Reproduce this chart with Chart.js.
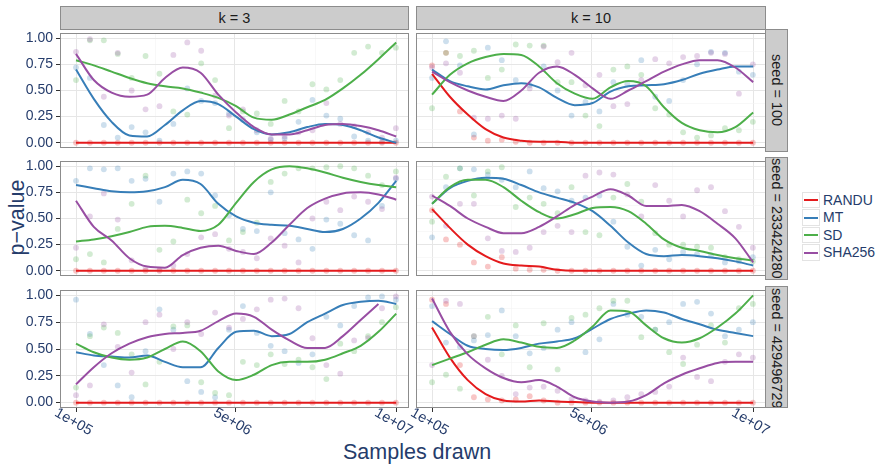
<!DOCTYPE html>
<html>
<head>
<meta charset="utf-8">
<script src="https://cdn.jsdelivr.net/npm/chart.js@4.4.1/dist/chart.umd.min.js"></script>
<style>
  body { margin: 0; width: 878px; height: 467px; background: #fff; position: relative; overflow: hidden;
         font-family: "Liberation Sans", Arial, sans-serif; }
  canvas { position: absolute; }
  .strip { position: absolute; background: #cccccc; border: 1px solid #8c8c8c; box-sizing: border-box;
           color: #1a1a1a; font-size: 14.5px; display: flex; align-items: center; justify-content: center;
           overflow: hidden; white-space: nowrap; }
  .strip.side { writing-mode: vertical-rl; }
  .strip.side.long { justify-content: flex-start; padding-top: 1px; }
  .axis-title { position: absolute; color: #253c6b; font-size: 21.5px; white-space: nowrap; }
  #legend { position: absolute; left: 802px; top: 191px; }
  .key-row { height: 17.5px; display: flex; align-items: center; }
  .key { width: 18px; height: 16.5px; border: 1px solid #e3e3e3; box-sizing: border-box; position: relative; margin-right: 3px; }
  .key i { position: absolute; left: 1px; right: 1px; top: 6.5px; height: 2px; }
  .key-row span { color: #253c6b; font-size: 14px; }
</style>
</head>
<body>

<div class="strip" style="left:60px;top:6px;width:349px;height:24px;">k = 3</div>
<div class="strip" style="left:416px;top:6px;width:350px;height:24px;">k = 10</div>
<div class="strip side" style="left:765px;top:29px;width:23px;height:123px;">seed = 100</div>
<div class="strip side" style="left:765px;top:157px;width:23px;height:123px;">seed = 233424280</div>
<div class="strip side long" style="left:765px;top:286px;width:23px;height:122px;">seed = 4294967296</div>

<div class="axis-title" style="left:343px;top:440px;">Samples drawn</div>
<div class="axis-title" style="left:-20px;top:205px;transform:rotate(-90deg);">p&minus;value</div>
<div id="legend"></div>

<canvas id="p_k3_s100"></canvas>
<canvas id="p_k10_s100"></canvas>
<canvas id="p_k3_s233"></canvas>
<canvas id="p_k10_s233"></canvas>
<canvas id="p_k3_s429"></canvas>
<canvas id="p_k10_s429"></canvas>

<script>
// Generators, in drawing order
const series = ['RANDU', 'MT', 'SD', 'SHA256'];

// x positions (samples drawn) of the smoothed curves and of the raw p-values
const fitX = [1e5, 6.5e5, 1.2e6, 1.75e6, 2.3e6, 2.85e6, 3.4e6, 3.95e6, 4.5e6, 5.05e6,
              5.6e6, 6.15e6, 6.7e6, 7.25e6, 7.8e6, 8.35e6, 8.9e6, 9.45e6, 1e7];
const pointX = [1e5, 5.3e5, 9.6e5, 1.39e6, 1.82e6, 2.25e6, 2.68e6, 3.11e6, 3.54e6, 3.97e6, 4.4e6, 4.83e6,
                5.26e6, 5.69e6, 6.12e6, 6.55e6, 6.98e6, 7.41e6, 7.84e6, 8.27e6, 8.7e6, 9.13e6, 9.56e6, 9.99e6];

// axis breaks
const xBreaks = [1e5, 5e6, 1e7];
const xLabels = ['1e+05', '5e+06', '1e+07'];
const xMinor = [2.55e6, 7.5e6];
const yBreaks = [0, 0.25, 0.5, 0.75, 1];
const yMinor = [0.125, 0.375, 0.625, 0.875];

// smoothed p-value per panel: [RANDU, MT, SD, SHA256]
const fit_k3_s100 = [
  [0,0,0,0,0,0,0,0,0,0,0,0,0,0,0,0,0,0,0],
  [0.70,0.42,0.20,0.07,0.06,0.17,0.31,0.40,0.37,0.25,0.13,0.08,0.10,0.15,0.18,0.17,0.12,0.05,0.00],
  [0.79,0.74,0.68,0.62,0.57,0.54,0.52,0.48,0.43,0.35,0.24,0.22,0.27,0.34,0.41,0.52,0.65,0.80,0.96],
  [0.85,0.60,0.48,0.44,0.46,0.62,0.72,0.67,0.46,0.29,0.15,0.08,0.08,0.12,0.17,0.18,0.16,0.12,0.06]
];
const fit_k10_s100 = [
  [0.66,0.44,0.27,0.13,0.05,0.02,0.01,0.01,0,0,0,0,0,0,0,0,0,0,0],
  [0.70,0.59,0.54,0.51,0.55,0.57,0.53,0.43,0.36,0.38,0.49,0.54,0.55,0.56,0.60,0.66,0.70,0.73,0.73],
  [0.46,0.65,0.76,0.82,0.85,0.84,0.73,0.57,0.47,0.42,0.53,0.59,0.54,0.34,0.19,0.12,0.10,0.15,0.29],
  [0.68,0.58,0.50,0.44,0.40,0.50,0.67,0.73,0.65,0.52,0.42,0.50,0.59,0.68,0.75,0.79,0.79,0.72,0.58]
];
const fit_k3_s233 = [
  [0,0,0,0,0,0,0,0,0,0,0,0,0,0,0,0,0,0,0],
  [0.82,0.79,0.76,0.75,0.76,0.80,0.87,0.83,0.64,0.52,0.46,0.44,0.43,0.40,0.37,0.40,0.50,0.65,0.86],
  [0.28,0.30,0.33,0.37,0.42,0.43,0.41,0.38,0.44,0.65,0.85,0.97,1.00,0.98,0.94,0.89,0.85,0.82,0.80],
  [0.67,0.42,0.29,0.12,0.04,0.03,0.15,0.22,0.24,0.19,0.16,0.27,0.44,0.60,0.69,0.74,0.75,0.73,0.68]
];
const fit_k10_s233 = [
  [0.59,0.41,0.25,0.14,0.07,0.05,0.04,0.01,0,0,0,0,0,0,0,0,0,0,0],
  [0.64,0.79,0.86,0.89,0.88,0.82,0.75,0.70,0.65,0.57,0.43,0.27,0.16,0.14,0.15,0.14,0.12,0.09,0.05],
  [0.64,0.80,0.87,0.87,0.80,0.67,0.56,0.50,0.54,0.60,0.61,0.57,0.45,0.30,0.22,0.19,0.15,0.12,0.10],
  [0.72,0.62,0.50,0.42,0.36,0.36,0.42,0.52,0.63,0.71,0.78,0.72,0.62,0.62,0.63,0.57,0.45,0.31,0.08]
];
const fit_k3_s429 = [
  [0,0,0,0,0,0,0,0,0,0,0,0,0,0,0,0,0,0,0],
  [0.47,0.44,0.43,0.42,0.44,0.38,0.33,0.33,0.51,0.66,0.67,0.62,0.64,0.75,0.83,0.91,0.94,0.95,0.92],
  [0.55,0.47,0.42,0.40,0.42,0.50,0.57,0.48,0.29,0.21,0.26,0.35,0.38,0.38,0.40,0.46,0.53,0.66,0.83],
  [0.17,0.33,0.46,0.55,0.61,0.64,0.65,0.67,0.76,0.83,0.80,0.68,0.58,0.51,0.51,0.62,0.77,0.92,null]
];
const fit_k10_s429 = [
  [0.70,0.42,0.21,0.08,0.02,0.01,0.02,0.01,0.005,0,0,0,0,0,0,0,0,0,0],
  [0.76,0.64,0.53,0.50,0.49,0.51,0.55,0.57,0.60,0.69,0.78,0.83,0.86,0.84,0.78,0.73,0.68,0.65,0.62],
  [0.35,0.41,0.47,0.54,0.59,0.56,0.52,0.51,0.58,0.71,0.86,0.85,0.72,0.60,0.56,0.60,0.70,0.83,1.00],
  [0.97,0.66,0.45,0.32,0.23,0.19,0.21,0.15,0.05,0.01,0.00,0.01,0.07,0.18,0.26,0.32,0.37,0.38,0.38]
];

// raw p-values per panel: [RANDU, MT, SD, SHA256]
const pts_k3_s100 = [
  [0,0,0,0,0,0,0,0,0,0,0,0,0,0,0,0,0,0,0,0,0,0,0,0],
  [0.72,0.62,0.17,0.05,0.15,0.10,0.02,0.18,0.52,0.40,0.38,0.28,0.22,0.10,0.03,0.04,0.20,0.41,0.26,0.23,0.06,0.02,0.01,0.02],
  [0.60,0.98,0.98,0.85,0.62,0.83,0.66,0.30,0.27,0.76,0.60,0.14,0.30,0.28,0.18,0.40,0.30,0.56,0.51,0.60,0.86,0.92,0.86,0.91],
  [0.87,0.99,0.44,0.86,0.50,0.32,0.35,0.84,0.96,0.88,0.45,0.26,0.32,0.12,0.04,0.06,0.10,0.12,0.38,0.18,0.16,0.10,0.05,0.14]
];
const pts_k10_s100 = [
  [0.74,0.86,0.30,0.05,0.02,0.03,0.01,0,0,0,0,0,0,0,0,0,0,0,0,0,0,0,0,0],
  [0.62,0.97,0.74,0.08,0.91,0.79,0.60,0.55,0.73,0.50,0.26,0.39,0.30,0.58,0.56,0.79,0.44,0.40,0.60,0.75,0.87,0.86,0.68,0.65],
  [0.33,0.86,0.83,0.88,0.62,0.70,0.94,0.93,0.93,0.58,0.58,0.26,0.16,0.70,0.73,0.65,0.33,0.27,0.10,0.05,0.07,0.14,0.12,0.20],
  [0.72,0.76,0.67,0.24,0.23,0.26,0.23,0.52,0.92,0.77,0.86,0.55,0.65,0.35,0.37,0.60,0.80,0.76,0.82,0.83,0.86,0.85,0.47,0.75]
];
const pts_k3_s233 = [
  [0,0,0,0,0,0,0,0,0,0,0,0,0,0,0,0,0,0,0,0,0,0,0,0],
  [0.86,0.98,0.97,0.98,0.86,0.88,0.66,0.93,0.95,0.93,0.72,0.53,0.40,0.38,0.75,0.36,0.30,0.21,0.49,0.45,0.34,0.29,0.62,0.88],
  [0.11,0.16,0.08,0.40,0.64,0.91,0.20,0.28,0.68,0.55,0.62,0.29,0.37,0.46,0.85,0.93,0.98,0.98,0.99,1.00,0.98,0.91,0.82,0.95],
  [0.22,0.52,0.74,0.49,0.10,0.02,0.01,0.05,0.16,0.32,0.35,0.21,0.18,0.12,0.31,0.24,0.08,0.50,0.66,0.58,0.71,0.66,0.59,0.89]
];
const pts_k10_s233 = [
  [0.58,0.30,0.25,0.08,0.04,0.13,0.02,0.01,0.01,0,0,0,0,0,0,0,0,0,0,0,0,0,0,0],
  [0.32,0.80,0.98,0.97,0.92,0.87,0.80,0.95,0.79,0.76,0.67,0.70,0.72,0.47,0.23,0.05,0.20,0.11,0.18,0.16,0.15,0.08,0.09,0.13],
  [0.47,0.90,0.98,0.72,0.95,0.99,0.61,0.70,0.64,0.55,0.80,0.37,0.34,0.70,0.83,0.66,0.36,0.25,0.25,0.23,0.22,0.13,0.11,0.09],
  [0.71,0.43,0.64,0.64,0.31,0.19,0.18,0.22,0.37,0.43,0.37,0.91,0.94,0.92,0.73,0.52,0.82,0.67,0.52,0.77,0.80,0.57,0.42,0.22]
];
const pts_k3_s429 = [
  [0,0,0,0,0,0,0,0,0,0,0,0,0,0,0,0,0,0,0,0,0,0,0,0],
  [0.96,0.64,0.35,0.16,0.05,0.48,0.87,0.68,0.20,0.10,0.05,0.68,0.90,0.65,0.53,0.48,0.37,0.45,0.80,0.72,0.90,0.98,0.99,0.96],
  [0.14,0.62,0.70,0.65,0.45,0.17,0.38,0.71,0.72,0.19,0.09,0.07,0.38,0.35,0.45,0.36,0.40,0.33,0.22,0.55,0.48,0.62,0.75,0.89],
  [0.07,0.16,0.73,0.52,0.28,0.75,0.82,0.50,0.75,0.64,0.84,0.70,0.78,0.87,0.96,0.97,0.88,0.60,0.35,0.27,0.58,0.60,0.88,0.99]
];
const pts_k10_s429 = [
  [0.96,0.92,0.35,0.05,0.03,0.02,0.03,0.06,0.02,0,0,0,0,0,0,0,0,0,0,0,0,0,0,0],
  [0.90,0.56,0.52,0.58,0.63,0.86,0.62,0.46,0.51,0.68,0.75,0.47,0.59,0.92,0.82,0.80,0.68,0.75,0.92,0.94,0.83,0.62,0.68,0.75],
  [0.19,0.26,0.13,0.62,0.80,0.45,0.72,0.33,0.74,0.31,0.79,0.82,0.88,0.95,0.95,0.61,0.68,0.47,0.36,0.54,0.72,0.56,0.88,0.92],
  [0.35,0.95,0.92,0.62,0.40,0.25,0.08,0.14,0.15,0.11,0.03,0.02,0.01,0.02,0.05,0.08,0.10,0.15,0.42,0.24,0.20,0.38,0.45,0.42]
];

const colors = ['#e41a1c', '#377eb8', '#4daf4a', '#984ea3'];
const faint = ['rgba(228,26,28,0.25)', 'rgba(55,126,184,0.25)', 'rgba(77,175,74,0.25)', 'rgba(152,78,163,0.25)'];
const navy = '#253c6b';
const fontFamily = '"Liberation Sans", Arial, sans-serif';

// panel border + rotated x tick labels (bottom row only)
const panelExtras = {
  id: 'panelExtras',
  afterDraw(chart, args, opts) {
    const { ctx, chartArea: a, scales: { x } } = chart;
    ctx.save();
    ctx.strokeStyle = '#8c8c8c';
    ctx.lineWidth = 1;
    ctx.strokeRect(a.left + 0.5, a.top + 0.5, a.right - a.left - 1, a.bottom - a.top - 1);
    if (opts.xLabels) {
      ctx.strokeStyle = '#333';
      ctx.fillStyle = navy;
      ctx.font = '14.5px ' + fontFamily;
      ctx.textAlign = 'center';
      ctx.textBaseline = 'middle';
      xBreaks.forEach((v, i) => {
        const px = Math.round(x.getPixelForValue(v)) + 0.5;
        ctx.beginPath();
        ctx.moveTo(px, a.bottom);
        ctx.lineTo(px, a.bottom + 4);
        ctx.stroke();
        ctx.save();
        ctx.translate(px - 3, a.bottom + 14);
        ctx.rotate(Math.PI / 6);
        ctx.fillText(xLabels[i], 0, 0);
        ctx.restore();
      });
    }
    ctx.restore();
  }
};

function makePanel(id, fits, pts, pos) {
  const canvas = document.getElementById(id);
  canvas.width = pos.w;
  canvas.height = pos.h;
  canvas.style.left = pos.left + 'px';
  canvas.style.top = pos.top + 'px';

  const datasets = [];
  series.forEach((name, s) => {
    datasets.push({
      type: 'scatter',
      label: name + ' raw',
      data: pointX.map((x, i) => ({ x: x, y: pts[s][i] })),
      backgroundColor: faint[s],
      borderWidth: 0,
      pointRadius: 2.9,
      order: 20 - s
    });
  });
  series.forEach((name, s) => {
    datasets.push({
      type: 'line',
      label: name,
      data: fitX.map((x, i) => ({ x: x, y: fits[s][i] })),
      borderColor: colors[s],
      borderWidth: 2,
      pointRadius: 0,
      fill: false,
      spanGaps: false,
      cubicInterpolationMode: 'monotone',
      order: 4 - s
    });
  });

  new Chart(canvas, {
    type: 'scatter',
    data: { datasets: datasets },
    options: {
      responsive: false,
      animation: false,
      devicePixelRatio: 1,
      layout: { padding: { left: pos.padL, right: pos.padR, top: 0, bottom: pos.padB } },
      plugins: {
        legend: { display: false },
        tooltip: { enabled: false },
        panelExtras: { xLabels: pos.bottom }
      },
      scales: {
        x: {
          type: 'linear',
          min: -3.95e5,
          max: 1.0395e7,
          border: { display: false },
          ticks: { display: false },
          grid: {
            drawTicks: false,
            color: c => xMinor.includes(c.tick.value) ? '#f3f3f3' : '#e6e6e6',
            lineWidth: c => xMinor.includes(c.tick.value) ? 0.6 : 1
          },
          afterBuildTicks: sc => { sc.ticks = xBreaks.concat(xMinor).sort((a, b) => a - b).map(v => ({ value: v })); },
          afterFit: sc => { sc.height = 0; sc.paddingLeft = 0; sc.paddingRight = 0; }
        },
        y: {
          min: -0.05,
          max: 1.05,
          border: { display: false },
          ticks: {
            display: pos.yLabels,
            color: navy,
            padding: 3,
            font: { family: fontFamily, size: 14 },
            callback: v => yBreaks.includes(v) ? v.toFixed(2) : ''
          },
          grid: {
            drawTicks: pos.yLabels,
            tickLength: 4,
            tickColor: c => yBreaks.includes(c.tick.value) ? '#333' : 'rgba(0,0,0,0)',
            color: c => yMinor.includes(c.tick.value) ? '#f3f3f3' : '#e6e6e6',
            lineWidth: c => yMinor.includes(c.tick.value) ? 0.6 : 1
          },
          afterBuildTicks: sc => { sc.ticks = yBreaks.concat(yMinor).sort((a, b) => a - b).map(v => ({ value: v })); },
          afterFit: sc => { sc.width = pos.yLabels ? 60 : 0; sc.paddingTop = 0; sc.paddingBottom = 0; }
        }
      }
    },
    plugins: [panelExtras]
  });
}

// facet grid: columns k = 3 / k = 10, rows by seed
const rowTop = [29, 157, 286];
const rowH = [123, 123, 122];
const left = { left: 0, w: 415, padL: 0, padR: 6, yLabels: true };
const right = { left: 410, w: 366, padL: 6, padR: 10, yLabels: false };

function pos(col, row) {
  const bottom = row === 2;
  return Object.assign({}, col, {
    top: rowTop[row],
    h: rowH[row] + (bottom ? 40 : 0),
    padB: bottom ? 40 : 0,
    bottom: bottom
  });
}

makePanel('p_k3_s100', fit_k3_s100, pts_k3_s100, pos(left, 0));
makePanel('p_k10_s100', fit_k10_s100, pts_k10_s100, pos(right, 0));
makePanel('p_k3_s233', fit_k3_s233, pts_k3_s233, pos(left, 1));
makePanel('p_k10_s233', fit_k10_s233, pts_k10_s233, pos(right, 1));
makePanel('p_k3_s429', fit_k3_s429, pts_k3_s429, pos(left, 2));
makePanel('p_k10_s429', fit_k10_s429, pts_k10_s429, pos(right, 2));

// legend
const legend = document.getElementById('legend');
series.forEach((name, s) => {
  const row = document.createElement('div');
  row.className = 'key-row';
  row.innerHTML = '<div class="key"><i style="background:' + colors[s] + '"></i></div><span>' + name + '</span>';
  legend.appendChild(row);
});
</script>
</body>
</html>
